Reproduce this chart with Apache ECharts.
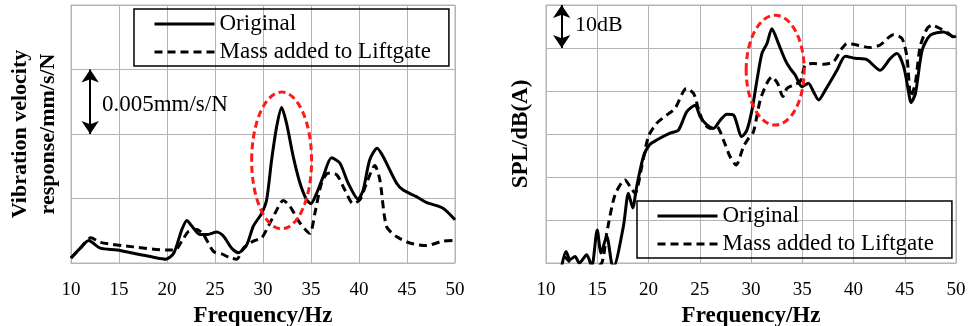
<!DOCTYPE html>
<html>
<head>
<meta charset="utf-8">
<script src="https://cdn.jsdelivr.net/npm/echarts@6/dist/echarts.min.js"></script>
<style>
html,body{margin:0;padding:0;background:#fff;}
#chart{width:970px;height:326px;}
</style>
</head>
<body>
<div id="chart"></div>
<script>
// ---------- DATA ----------
// Left panel: vibration velocity response (units of 0.001 mm/s/N; gridline = 0.005 mm/s/N)
var velFreqOriginal = [10,10.97,11.84,12.2,13.05,14.8,16.86,18.6,19.88,20.7,21.55,22.07,22.6,23.45,24.14,25.18,25.87,26.74,27.43,28.3,28.99,29.86,30.38,30.9,31.42,31.94,32.46,33.15,33.85,34.54,34.99,35.58,36.27,37.14,38.0,38.87,39.91,40.43,41.12,41.89,42.51,43.9,44.6,45.98,47.02,48.75,50];
var velOriginal = [0.39,1.15,1.75,1.6,1.15,1.0,0.7,0.45,0.3,0.75,2.6,3.3,2.85,2.2,2.2,2.4,2.1,1.15,0.8,1.4,2.85,3.85,4.9,8.0,10.55,12.05,10.8,8.25,6.2,4.9,4.6,5.4,6.7,8.15,7.75,6.2,4.95,5.65,8.0,8.9,8.25,6.2,5.65,5.15,4.7,4.25,3.35];
var velFreqMass = [10,10.97,12.08,13.05,16.5,19.98,20.85,21.55,22.24,23.1,23.8,24.84,25.7,26.57,27.26,27.95,28.99,29.86,30.55,31.25,32.11,32.8,33.85,34.88,35.4,36.1,36.79,37.66,38.53,39.39,40.1,40.79,41.65,42.17,42.86,43.9,45.29,47.02,48.75,50];
var velMass = [0.39,1.15,1.95,1.6,1.25,1.0,1.0,1.7,2.45,2.6,2.2,0.9,0.7,0.4,0.3,1.15,1.7,1.95,2.85,3.85,4.85,4.4,3.1,2.3,3.85,6.2,6.95,6.85,5.65,4.6,4.9,6.2,7.55,6.45,2.85,2.05,1.55,1.35,1.7,1.75];

// Right panel: SPL dB(A) (gridline = 10 dB)
var splFreqOriginal = [11.53,11.95,12.34,12.83,13.25,13.97,14.46,15.0,15.37,15.92,16.4,16.6,17.55,18.04,18.46,18.85,19.5,20.1,20.8,22.1,22.92,23.74,24.55,25.04,25.7,26.34,27.0,27.65,28.3,29.1,29.6,30.1,30.58,31.06,31.55,32.04,32.68,33.34,33.83,34.32,34.97,35.6,36.1,36.6,37.25,38.39,39.2,40.18,41.3,42.6,43.6,44.25,44.9,45.4,45.6,46.04,46.7,47.5,48.8,49.8,50];
var splOriginal = [19.2,22.7,20.8,21.5,20,21.9,19.2,27.7,22.3,26.2,20,19.2,28.5,36.2,32.8,37.8,44.7,47.5,48.6,50.2,50.9,55.2,56.7,54,52.1,51.3,53.2,54.6,54.4,49.4,50.9,55.6,62.5,68.7,71,74.5,71,67.2,65.2,63.7,61,61.8,59.8,57.9,60.2,64.8,68.1,67.6,67.3,64.8,67.6,68.7,65.6,59.4,57.3,59.4,69.5,73,73.7,72.6,72.8];
var splFreqMass = [11.8,12.3,13.0,14.5,15.44,15.93,16.74,17.71,18.2,18.69,19.34,19.99,20.8,21.78,22.6,23.7,24.4,24.9,25.4,26.0,26.66,27.31,27.96,28.55,29.27,29.76,30.24,30.9,31.55,32.03,32.59,33.11,33.5,34.15,34.8,35.29,36.1,37.08,38.05,38.87,39.36,40.33,41.63,42.6,43.9,44.73,45.21,45.6,46.03,46.5,47.17,47.66,48.47,49.28,49.87];
var splMass = [21.5,20.3,19,19,20,27,35.9,39.3,37.8,36.2,42.4,49.4,52.5,54.4,56,60.6,59.4,55.6,52.5,51.3,51.7,48.6,44.7,42.8,47.1,49,50.5,57.9,61.8,63.3,61.8,58.7,60.6,61.4,62.2,66,66.4,66.2,66.8,69.9,71,70.7,70.1,70.7,73.1,72.2,68,58.7,61.8,70.3,74.5,75.3,74.5,73.4,72.2];

var xTicks = [10,15,20,25,30,35,40,45,50];
var seriesNames = ['Original','Mass added to Liftgate'];

// ---------- CHART ----------
function zip(a,b){ return a.map(function(v,i){ return [v,b[i]]; }); }
var FONT = "'Liberation Serif','Times New Roman',serif";
var GRID_C = '#b4b4b4';

function xAxis(gi){
  return {
    type:'value', gridIndex:gi, min:xTicks[0], max:xTicks[xTicks.length-1], interval:5,
    axisLine:{show:true,lineStyle:{color:GRID_C,width:1}},
    axisTick:{show:false},
    splitLine:{show:true,lineStyle:{color:GRID_C,width:1}},
    axisLabel:{color:'#000',fontFamily:FONT,fontSize:19,margin:18},
    name:'Frequency/Hz', nameLocation:'middle', nameGap:34,
    nameTextStyle:{color:'#000',fontFamily:FONT,fontSize:23,fontWeight:'bold'}
  };
}
function yAxis(gi,min,max,interval,name,gap,fs){
  return {
    type:'value', gridIndex:gi, min:min, max:max, interval:interval,
    axisLine:{show:true,lineStyle:{color:GRID_C,width:1}},
    axisTick:{show:false},
    axisLabel:{show:false},
    splitLine:{show:true,lineStyle:{color:GRID_C,width:1}},
    name:name, nameLocation:'middle', nameGap:gap,
    nameTextStyle:{color:'#000',fontFamily:FONT,fontSize:fs,fontWeight:'bold',lineHeight:28}
  };
}
function lineSeries(name,gi,data,dashed,markLine){
  var s = {
    name:name, type:'line', xAxisIndex:gi, yAxisIndex:gi, data:data,
    symbol:'none', smooth:0.25, clip:true,
    lineStyle:{color:'#000',width:3,type:dashed?[8,5]:'solid'},
    itemStyle:{color:'#000'},
    z:3
  };
  if(markLine) s.markLine = markLine;
  return s;
}
function arrowLine(x,y1,y2){
  return {
    silent:true, symbol:['arrow','arrow'], symbolSize:13,
    label:{show:false},
    lineStyle:{color:'#000',width:2,type:'solid'},
    data:[[{coord:[x,y1]},{coord:[x,y2]}]]
  };
}
function legend(left,top){
  return {
    orient:'vertical', left:left, top:top,
    itemWidth:60, itemHeight:14, itemGap:4,
    padding:[3,18,2,19],
    borderColor:'#000', borderWidth:1.5,
    itemStyle:{opacity:0},
    lineStyle:{width:3},
    textStyle:{color:'#000',fontFamily:FONT,fontSize:23,lineHeight:24},
    data:seriesNames
  };
}

var chart = echarts.init(document.getElementById('chart'),null,{renderer:'canvas'});
chart.setOption({
  animation:false,
  backgroundColor:'#fff',
  grid:[
    {left:71,top:5,width:384,height:258,show:true,borderColor:GRID_C,borderWidth:1,outerBoundsMode:'none',containLabel:false},
    {left:546,top:5,width:410,height:258,show:true,borderColor:GRID_C,borderWidth:1,outerBoundsMode:'none',containLabel:false}
  ],
  xAxis:[xAxis(0),xAxis(1)],
  yAxis:[
    yAxis(0,0,20,5,'Vibration velocity\nresponse/mm/s/N',9,22),
    yAxis(1,20,80,10,'SPL/dB(A)',11,23)
  ],
  legend:[legend(134,9),legend(637,201)],
  series:[
    lineSeries(seriesNames[0],0,zip(velFreqOriginal,velOriginal),false,arrowLine(12.0,15,10)),
    lineSeries(seriesNames[1],0,zip(velFreqMass,velMass),true),
    lineSeries(seriesNames[0],1,zip(splFreqOriginal,splOriginal),false,arrowLine(11.53,80,70)),
    lineSeries(seriesNames[1],1,zip(splFreqMass,splMass),true)
  ]
});

// Annotations positioned through the axes
function px(gi,pt){ return chart.convertToPixel({gridIndex:gi},pt); }
function ellipse(gi,cx,cy,rx,ry){
  var c = px(gi,[cx,cy]);
  var e = px(gi,[cx+rx,cy+ry]);
  return {
    type:'ellipse', silent:true, z:10,
    shape:{cx:c[0],cy:c[1],rx:Math.abs(e[0]-c[0]),ry:Math.abs(c[1]-e[1])},
    style:{fill:'none',stroke:'#ff1a1a',lineWidth:3,lineDash:[7,4]}
  };
}
function label(gi,x,y,text,fs){
  var p = px(gi,[x,y]);
  return {
    type:'text', silent:true, z:10, x:p[0], y:p[1],
    style:{text:text,fill:'#000',font:fs+'px '+FONT,textAlign:'left',textVerticalAlign:'middle'}
  };
}
chart.setOption({
  graphic:[
    ellipse(0,31.94,7.95,3.12,5.3),
    ellipse(1,32.36,64.85,2.83,12.76),
    label(0,13.22,12.24,'0.005mm/s/N',23),
    label(1,12.83,75.3,'10dB',22)
  ]
});
</script>
</body>
</html>
